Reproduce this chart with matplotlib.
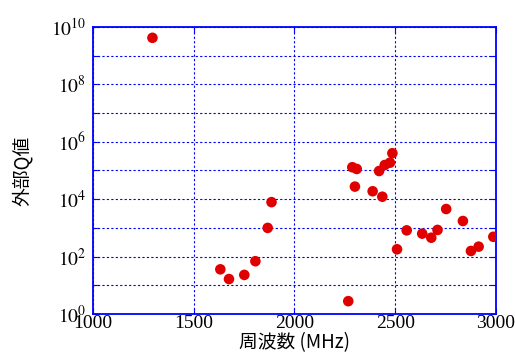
import matplotlib
matplotlib.use("Agg")
import matplotlib.pyplot as plt
import numpy as np

# frequency (MHz) and external Q values
freq_mhz = [1295, 1632, 1675, 1751, 1806, 1867, 1886,
            2267, 2287, 2309, 2300, 2388, 2420, 2436, 2448, 2474, 2486,
            2509, 2557, 2634, 2679, 2710, 2753, 2836, 2876, 2914, 2987]
q_ext = [4.2e9, 36, 16.5, 23, 69, 1000, 7900,
         2.8, 1.3e5, 1.13e5, 2.75e4, 1.89e4, 9.6e4, 1.22e4, 1.55e5, 1.87e5, 4.0e5,
         180, 820, 630, 455, 850, 4550, 1740, 157, 222, 490]

x_ticks = [1000, 1500, 2000, 2500, 3000]
y_decades = list(range(0, 11))

xlabel = "周波数 (MHz)"
ylabel = "外部Q値"

plt.rcParams.update({
    "font.family": ["Liberation Serif", "DejaVu Serif"],
    "mathtext.fontset": "stix",
})

fig = plt.figure(figsize=(5.15, 3.53), dpi=100)
ax = fig.add_axes([0.1806, 0.1105, 0.7824, 0.813])

ax.scatter(freq_mhz, q_ext, s=58, color="#e00000", edgecolors="none", zorder=3)

ax.set_yscale("log")
ax.set_xlim(1000, 3000)
ax.set_ylim(1, 1e10)

ax.set_xticks(x_ticks)
ax.set_xticklabels([str(t) for t in x_ticks])
ax.set_yticks([10.0 ** d for d in y_decades])
ax.set_yticklabels([rf"$10^{{{d}}}$" if d % 2 == 0 else "" for d in y_decades])
ax.yaxis.set_minor_locator(matplotlib.ticker.NullLocator())

ax.tick_params(axis="both", which="major", direction="in", length=4,
               color="blue", top=True, right=True, labelsize=14)
ax.tick_params(axis="x", pad=1)
ax.tick_params(axis="y", pad=5)

for sp in ax.spines.values():
    sp.set_color("blue")
    sp.set_linewidth(1.3)

ax.grid(True, color="blue", linestyle=(0, (2, 2)), linewidth=0.8)
ax.set_axisbelow(True)

cjk = ["Noto Sans CJK JP", "DejaVu Sans"]
ax.set_xlabel(xlabel, family=cjk, fontsize=13.5, labelpad=0)
ax.set_ylabel(ylabel, family=cjk, fontsize=13.5, labelpad=13)

fig.savefig("out.png", dpi=100)
